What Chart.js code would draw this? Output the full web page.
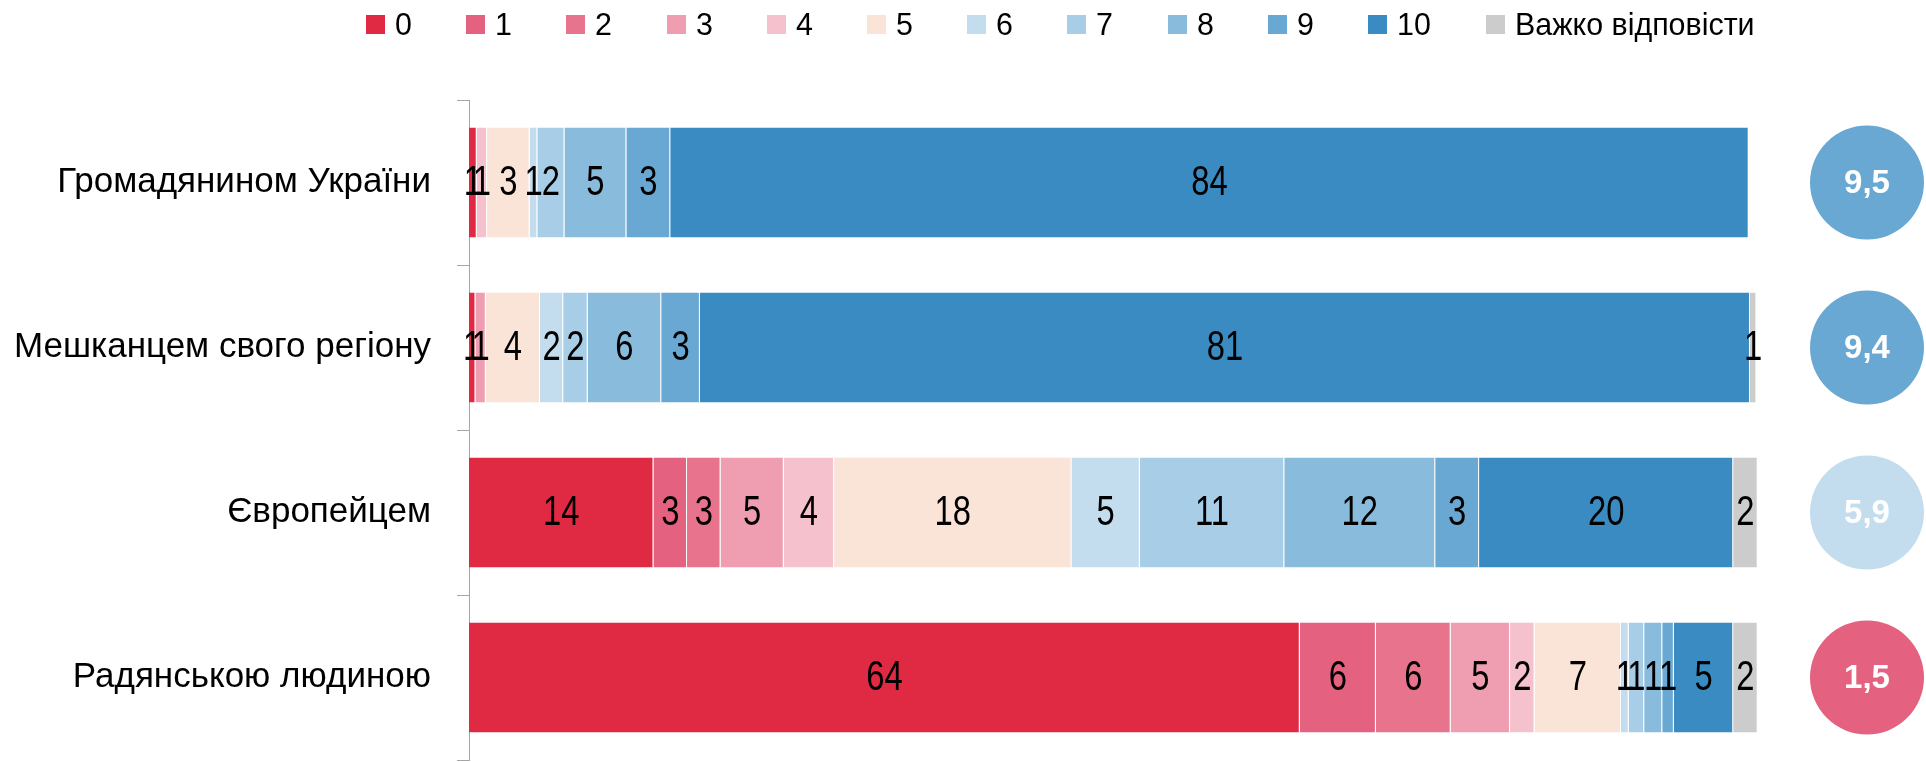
<!DOCTYPE html>
<html lang="uk">
<head>
<meta charset="utf-8">
<script src="https://cdn.jsdelivr.net/npm/chart.js@4.4.1/dist/chart.umd.min.js"></script>
<style>
  html, body { margin: 0; padding: 0; background: #fff; }
  #wrap { position: relative; width: 1926px; height: 762px; }
  #legend {
    position: absolute; top: 0; left: 366px; height: 48px;
    display: flex; align-items: center;
    font: 32px "Liberation Sans", Arial, sans-serif;
    color: #000;
  }
  #legend .item { display: flex; align-items: center; margin-right: 53.4px; }
  #legend .item:last-child { margin-right: 0; }
  #legend .box { width: 19px; height: 19px; margin-right: 10px; }
  #legend .txt { display: inline-block; transform: scaleX(0.95); transform-origin: left center; }
</style>
</head>
<body>
<div id="wrap">
  <div id="legend"></div>
  <canvas id="chart" width="1926" height="762"></canvas>
</div>
<script>
// categories (bars, top to bottom)
const categories = ["Громадянином України", "Мешканцем свого регіону", "Європейцем", "Радянською людиною"];

// score labels for the stacked series
const scoreLabels = ["0", "1", "2", "3", "4", "5", "6", "7", "8", "9", "10", "Важко відповісти"];

// share of respondents per score, %, one array per score
const score0    = [0.6, 0.5, 14.3, 64.4];
const score1    = [0,   0,   2.6,  5.9];
const score2    = [0,   0,   2.6,  5.8];
const score3    = [0,   0.8, 4.9,  4.6];
const score4    = [0.8, 0,   3.9,  1.9];
const score5    = [3.3, 4.2, 18.4, 6.7];
const score6    = [0.6, 1.8, 5.3,  0.6];
const score7    = [2.1, 1.9, 11.2, 1.2];
const score8    = [4.8, 5.7, 11.7, 1.4];
const score9    = [3.4, 3.0, 3.4,  0.9];
const score10   = [83.6, 81.4, 19.7, 4.6];
const hardToSay = [0,   0.5, 1.9,  1.9];

// average score per category
const meanScores = [9.5, 9.4, 5.9, 1.5];

const seriesValues = [score0, score1, score2, score3, score4, score5, score6, score7, score8, score9, score10, hardToSay];
const seriesColors = ["#e02a43", "#e4617f", "#e8738c", "#ee9eb0", "#f4c1cd", "#fae4d8",
                      "#c3ddee", "#a8cde6", "#89bbdc", "#68a8d2", "#3a8bc1", "#cccccc"];
const meanColors   = ["#68a8d2", "#68a8d2", "#c3ddee", "#e4617f"];

const FONT = '"Liberation Sans", Arial, sans-serif';

// legend (html)
const legendEl = document.getElementById("legend");
scoreLabels.forEach((label, i) => {
  const item = document.createElement("div");
  item.className = "item";
  item.innerHTML = `<span class="box" style="background:${seriesColors[i]}"></span><span class="txt">${label}</span>`;
  legendEl.appendChild(item);
});

// numbers in the middle of each segment (narrowed like the original font)
const segmentLabels = {
  id: "segmentLabels",
  afterDatasetsDraw(chart) {
    const ctx = chart.ctx;
    const sx = 0.78;
    ctx.save();
    ctx.font = `42px ${FONT}`;
    ctx.fillStyle = "#000";
    ctx.textAlign = "center";
    ctx.textBaseline = "middle";
    ctx.scale(sx, 1);
    chart.data.datasets.forEach((ds, d) => {
      chart.getDatasetMeta(d).data.forEach((bar, i) => {
        const v = ds.data[i];
        if (!v) return;
        const { x, y, base } = bar.getProps(["x", "y", "base"], true);
        ctx.fillText(String(Math.round(v)), (x + base) / 2 / sx, y + 1);
      });
    });
    ctx.restore();
  },
};

// average-score circles to the right of the bars
const meanCircles = {
  id: "meanCircles",
  afterDatasetsDraw(chart) {
    const ctx = chart.ctx;
    const yScale = chart.scales.y;
    const cx = chart.chartArea.right + 108;
    ctx.save();
    meanScores.forEach((m, i) => {
      const cy = yScale.getPixelForValue(i);
      ctx.beginPath();
      ctx.arc(cx, cy, 57, 0, Math.PI * 2);
      ctx.fillStyle = meanColors[i];
      ctx.fill();
      ctx.font = `bold 33px ${FONT}`;
      ctx.fillStyle = "#fff";
      ctx.textAlign = "center";
      ctx.textBaseline = "middle";
      ctx.fillText(m.toFixed(1).replace(".", ","), cx, cy + 1);
    });
    ctx.restore();
  },
};

new Chart(document.getElementById("chart"), {
  type: "bar",
  data: {
    labels: categories,
    datasets: seriesValues.map((vals, i) => ({
      label: scoreLabels[i],
      data: vals,
      backgroundColor: seriesColors[i],
      borderColor: "rgba(255,255,255,0.3)",
      borderWidth: { left: 0, right: 1, top: 0, bottom: 0 },
      borderSkipped: false,
      categoryPercentage: 1,
      barPercentage: 0.667,
    })),
  },
  options: {
    indexAxis: "y",
    responsive: false,
    animation: false,
    layout: { padding: { top: 100, right: 167, bottom: 2, left: 0 } },
    plugins: {
      legend: { display: false },
      tooltip: { enabled: false },
    },
    scales: {
      x: { stacked: true, min: 0, max: 100, display: false },
      y: {
        stacked: true,
        offset: true,
        afterFit: (s) => { s.width = 469; s.paddingTop = 0; s.paddingBottom = 0; },
        grid: { offset: true, drawOnChartArea: false, drawTicks: true, tickLength: 12, color: "#a6a6a6" },
        border: { display: true, color: "#a6a6a6", width: 1 },
        ticks: { color: "#000", padding: 26, font: { family: FONT, size: 35 } },
      },
    },
  },
  plugins: [segmentLabels, meanCircles],
});
</script>
</body>
</html>
